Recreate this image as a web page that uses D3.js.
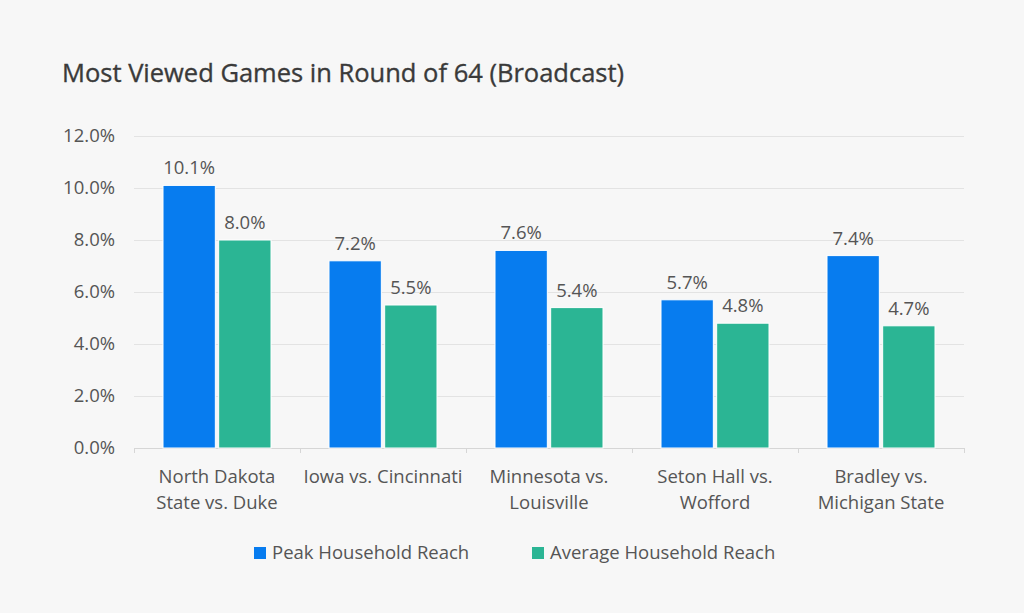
<!DOCTYPE html>
<html><head><meta charset="utf-8">
<script src="https://cdn.jsdelivr.net/npm/d3@7"></script>
<style>
body{margin:0;background:#f7f7f7;}
svg{display:block;font-family:"Open Sans",sans-serif;}
</style></head><body>
<svg id="c" width="1024" height="613"></svg>
<script>
const categories = [["North Dakota","State vs. Duke"],["Iowa vs. Cincinnati"],["Minnesota vs.","Louisville"],["Seton Hall vs.","Wofford"],["Bradley vs.","Michigan State"]];
const seriesNames = ["Peak Household Reach","Average Household Reach"];
const peak = [10.1, 7.2, 7.6, 5.7, 7.4];
const average = [8.0, 5.5, 5.4, 4.8, 4.7];
const yTicks = [0, 2, 4, 6, 8, 10, 12];
const colors = ["#077cef", "#2bb594"];

const svg = d3.select("#c");
svg.append("rect").attr("width",1024).attr("height",613).attr("fill","#f7f7f7");
svg.append("text").attr("x",62).attr("y",82).attr("fill","#3a3a3a").attr("font-size",25.5)
  .attr("stroke","#3a3a3a").attr("stroke-width",0.35)
  .text("Most Viewed Games in Round of 64 (Broadcast)");

const x0 = d3.scaleBand().domain(d3.range(categories.length)).range([134,964]);
const y = d3.scaleLinear().domain([0,12]).range([448,136]);
const x1 = d3.scaleBand().domain([0,1]).range([0, 108]).paddingInner(0.06);

const g = svg.append("g");
g.selectAll("line.grid").data(yTicks).join("line")
  .attr("x1",134).attr("x2",964).attr("y1",d=>y(d)).attr("y2",d=>y(d))
  .attr("stroke",d=>d===0?"#d6d6d6":"#e3e3e3").attr("stroke-width",1).attr("shape-rendering","crispEdges");
g.selectAll("text.yl").data(yTicks).join("text")
  .attr("x",115).attr("y",d=>y(d)).attr("dy","0.35em").attr("text-anchor","end")
  .attr("fill","#555").attr("font-size",18.5).text(d=>d.toFixed(1)+"%");
// category ticks
g.selectAll("line.ct").data(d3.range(categories.length+1)).join("line")
  .attr("x1",d=>134+d*x0.bandwidth()).attr("x2",d=>134+d*x0.bandwidth())
  .attr("y1",448).attr("y2",453).attr("stroke","#d6d6d6").attr("shape-rendering","crispEdges");

const data = categories.map((c,i)=>({i, vals:[peak[i], average[i]]}));
const grp = g.selectAll("g.cat").data(data).join("g")
  .attr("transform",d=>`translate(${x0(d.i)+x0.bandwidth()/2-54},0)`);
grp.selectAll("rect").data(d=>d.vals.map((v,k)=>({v,k}))).join("rect")
  .attr("x",d=>x1(d.k)).attr("width",x1.bandwidth())
  .attr("y",d=>y(d.v)).attr("height",d=>y(0)-y(d.v))
  .attr("fill",d=>colors[d.k]).attr("stroke","#fff").attr("stroke-width",1);
grp.selectAll("text.v").data(d=>d.vals.map((v,k)=>({v,k}))).join("text")
  .attr("x",d=>x1(d.k)+x1.bandwidth()/2).attr("y",d=>y(d.v)-11)
  .attr("text-anchor","middle").attr("fill","#555").attr("font-size",18.5)
  .text(d=>d.v.toFixed(1)+"%");

const cl = g.selectAll("text.cl").data(categories).join("text")
  .attr("x",(d,i)=>x0(i)+x0.bandwidth()/2).attr("y",483)
  .attr("text-anchor","middle").attr("fill","#555").attr("font-size",18.5);
cl.selectAll("tspan").data(d=>d).join("tspan")
  .attr("x",function(){return this.parentNode.getAttribute("x");})
  .attr("dy",(d,k)=>k===0?0:25.7).text(d=>d);

// legend
const legX = [254, 532];
const lg = svg.selectAll("g.leg").data(seriesNames).join("g")
  .attr("transform",(d,i)=>`translate(${legX[i]},553)`);
lg.append("rect").attr("x",0).attr("y",-6).attr("width",12).attr("height",12).attr("fill",(d,i)=>colors[i]);
lg.append("text").attr("x",18).attr("y",0).attr("dy","0.35em").attr("fill","#555").attr("font-size",18.5).text(d=>d);
</script></body></html>
